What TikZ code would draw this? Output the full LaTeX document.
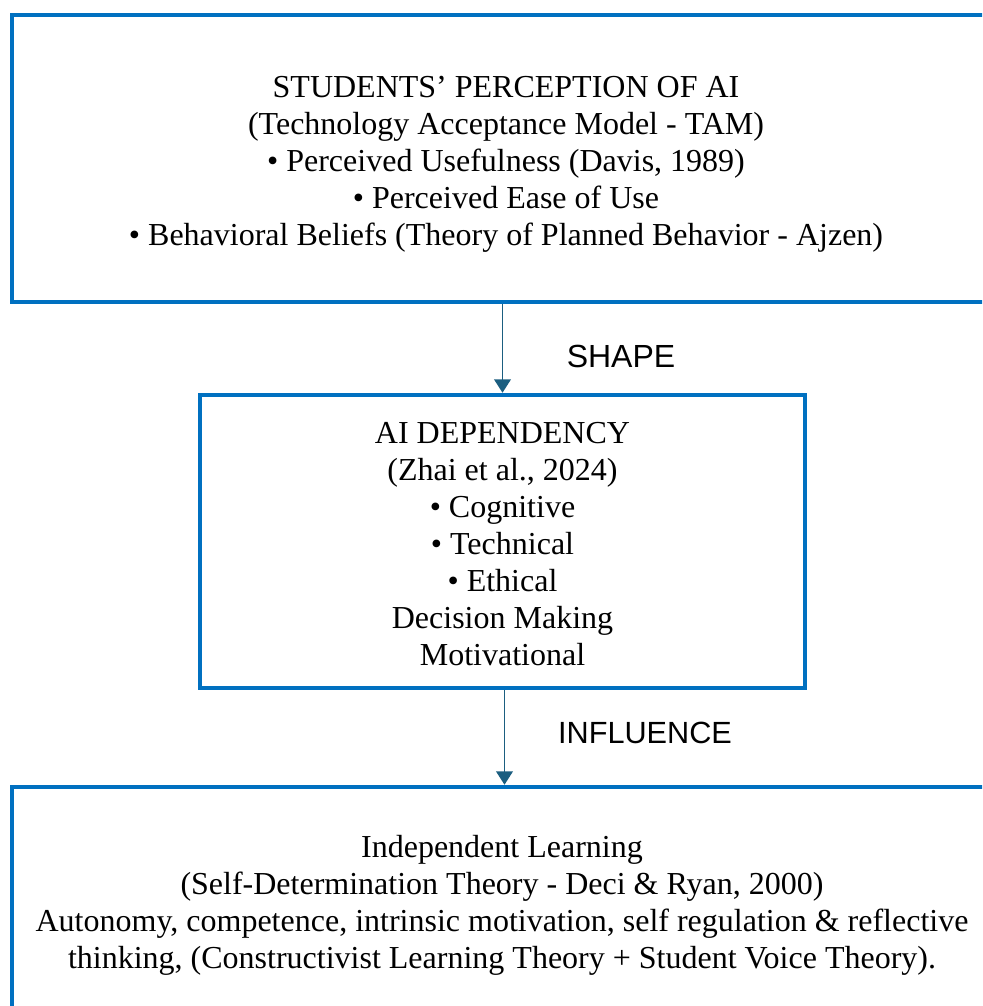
\documentclass[tikz,border=0pt]{standalone}
\usepackage{fontspec}
\setmainfont{Liberation Serif}
\newfontfamily\fuenteEtiqueta{Liberation Sans}
\usetikzlibrary{arrows.meta, positioning}
\definecolor{azulmarco}{HTML}{0070C0}
\definecolor{azulflecha}{HTML}{1B5E80}
\colorlet{colMarco}{azulmarco}
\colorlet{colFlecha}{azulflecha}
\tikzset{
  cajaBase/.style={
    draw=colMarco, line width=3.4pt, fill=white,
    align=center, inner sep=0pt, text=black,
    font=\fontsize{24}{27.75}\selectfont
  },
  flecha/.style={-{Triangle[length=10pt,width=12.5pt]}, line width=1.1pt, colFlecha},
  etiquetaFlecha/.style={font=\fuenteEtiqueta\fontsize{23}{28}\selectfont, text=black},
}

\begin{document}
\begin{tikzpicture}[x=0.75pt, y=-0.75pt]
    \useasboundingbox (0,0) rectangle (982,1006);
    \clip (0,0) rectangle (982,1006);

    % the rules push the first line down a little
    \node[cajaBase, minimum width=741pt, minimum height=215pt] (percepcion) at (506,158.5)
      {\rule{0pt}{25.3pt}STUDENTS’ PERCEPTION OF AI\\
       (Technology Acceptance Model - TAM)\\
       • Perceived Usefulness (Davis, 1989)\\
       • Perceived Ease of Use\\
       • Behavioral Beliefs (Theory of Planned Behavior - Ajzen)};

    \node[cajaBase, minimum width=453.75pt, minimum height=219.75pt] (dependencia) at (502.5,541.5)
      {\rule{0pt}{20.4pt}AI DEPENDENCY\\
       (Zhai et al., 2024)\\
       • Cognitive\\
       • Technical\\
       • Ethical\\
       Decision Making\\
       Motivational};

    \node[cajaBase, minimum width=735pt, minimum height=172.5pt] (aprendizaje) at (502,902)
      {\rule{0pt}{22.4pt}Independent Learning\\
       (Self-Determination Theory - Deci \& Ryan, 2000)\\
       Autonomy, competence, intrinsic motivation, self regulation \& reflective\\
       thinking, (Constructivist Learning Theory + Student Voice Theory).};

    \draw[flecha] (dependencia.north |- percepcion.south) -- (dependencia.north);
    \draw[flecha] ([xshift=1.5pt]dependencia.south) -- ([xshift=1.5pt]dependencia.south |- aprendizaje.north);

    \node[etiquetaFlecha, font=\fuenteEtiqueta\fontsize{24}{28}\selectfont] (forma) at (621,356) {SHAPE};
    \node[etiquetaFlecha] (influye) at (645,733) {INFLUENCE};
  \end{tikzpicture}
\end{document}
